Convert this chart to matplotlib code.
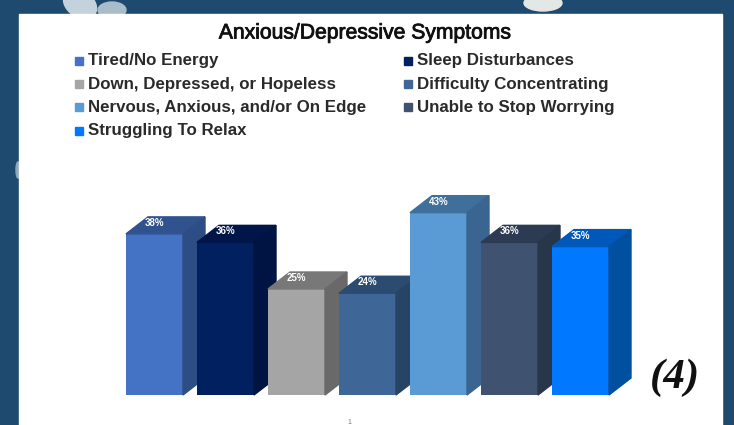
import matplotlib
matplotlib.use("Agg")
import matplotlib.pyplot as plt
import matplotlib.patheffects as pe
from matplotlib.patches import Polygon, Rectangle, Ellipse

W, H = 734, 425

categories = ["Tired/No Energy", "Sleep Disturbances", "Down, Depressed, or Hopeless",
              "Difficulty Concentrating", "Nervous, Anxious, and/or On Edge",
              "Unable to Stop Worrying", "Struggling To Relax"]
values = [38, 36, 25, 24, 43, 36, 35]
front_colors = ["#4472c4", "#002060", "#a5a5a5", "#3e6797", "#5b9bd5", "#3f5370", "#0078ff"]
top_colors = ["#30528f", "#001648", "#787878", "#2c4b70", "#3f6f9b", "#2c3b52", "#0058bb"]
side_colors = ["#2d4d85", "#001444", "#696969", "#284465", "#396590", "#283649", "#00509f"]
title = "Anxious/Depressive Symptoms"

fig = plt.figure(figsize=(W / 100, H / 100), dpi=100, facecolor="#1f4a70")

# Backdrop: blue page with pale shapes peeking out above the white panel
bg = fig.add_axes([0, 0, 1, 1], zorder=0)
bg.set_xlim(0, W)
bg.set_ylim(H, 0)
bg.axis("off")
bg.add_patch(Ellipse((80, 4), 36, 26, angle=35, color="#c3d2db"))
bg.add_patch(Ellipse((112, 10), 28, 16, color="#a9bcc9"))
bg.add_patch(Ellipse((543, 3), 38, 16, color="#e3e8e6"))
bg.add_patch(Ellipse((18, 170), 4, 16, color="#8fa9bb"))
bg.add_patch(Rectangle((19, 14), 703, 411, color="white"))

# Chart area: baseline at y=395, 4.24 px per percentage point, 71 px per category
ax = fig.add_axes([126 / W, (H - 395) / H, 497 / W, 212 / H], zorder=1)
ax.set_xlim(0, 497 / 71)
ax.set_ylim(0, 50)
ax.axis("off")

bar_w = 57 / 71
depth_x = 22 / 71
depth_y = 17 / 4.24

for i, v in enumerate(values):
    ax.bar(i, v, width=bar_w, align="edge", color=front_colors[i], zorder=3 + i)
    ax.add_patch(Polygon([(i, v), (i + bar_w, v), (i + bar_w + depth_x, v + depth_y),
                          (i + depth_x, v + depth_y)], closed=True, color=top_colors[i],
                         zorder=3 + i, clip_on=False))
    ax.add_patch(Polygon([(i + bar_w, 0), (i + bar_w + depth_x, depth_y),
                          (i + bar_w + depth_x, v + depth_y), (i + bar_w, v)], closed=True,
                         color=side_colors[i], zorder=3 + i, clip_on=False))
    ax.text(i + 0.40, v + 2.6, f"{v}%", color="white", fontsize=7, fontweight="bold",
            family="Liberation Sans", ha="center", va="center", zorder=20)

over = fig.add_axes([0, 0, 1, 1], zorder=2)
over.set_xlim(0, W)
over.set_ylim(H, 0)
over.axis("off")
over.patch.set_alpha(0)

over.text(365, 33, title, fontsize=15.2, family="Liberation Sans", ha="center", va="center",
          color="#111111", path_effects=[pe.withStroke(linewidth=0.6, foreground="#111111")])

# Two-column key, filled row by row
rows_y = [60.5, 84, 107, 130.5]
for i, name in enumerate(categories):
    col, row = i % 2, i // 2
    x0 = 75 if col == 0 else 404
    over.add_patch(Rectangle((x0, rows_y[row] - 4), 7.5, 8, color=front_colors[i]))
    over.text(x0 + 13, rows_y[row], name, fontsize=12.2, family="Liberation Sans",
              fontweight="bold", color="#2a2a2a", va="center", ha="left")

over.text(349, 422, "1", fontsize=5, color="#777777", ha="center", va="center",
          family="Liberation Sans")
over.text(675.5, 378, "(4)", fontsize=31, family="Liberation Serif", style="italic",
          fontweight="bold", color="#111111", ha="center", va="center")

fig.savefig("out.png", dpi=100, facecolor=fig.get_facecolor())
